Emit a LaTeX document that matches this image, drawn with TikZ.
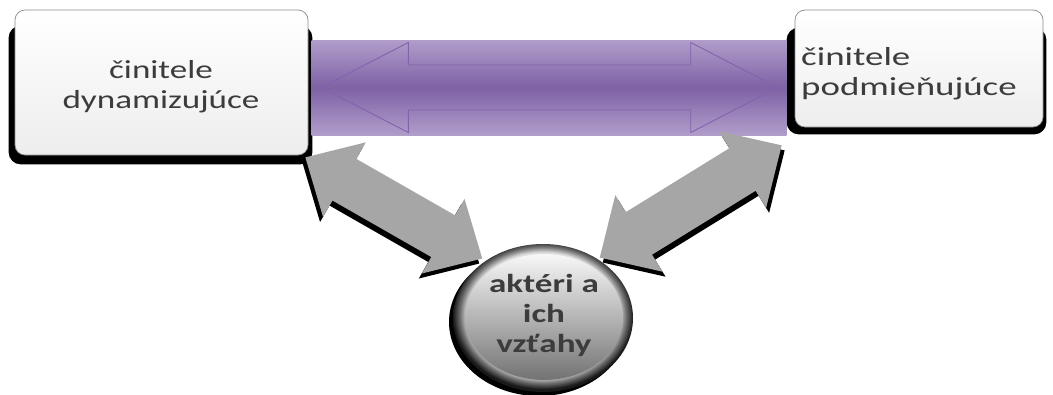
\documentclass[tikz,border=0pt]{standalone}
\usepackage{fontspec}
\setmainfont{Carlito}
\usetikzlibrary{calc,shapes.geometric,shadows}
\definecolor{bandmid}{HTML}{7E62A5}
\definecolor{bandedge}{HTML}{B09DCA}
\definecolor{bandline}{HTML}{8262AE}
\definecolor{txt}{HTML}{3C3C3C}
\definecolor{arrgray}{HTML}{A6A6A6}
\pgfdeclarelayer{bg}
\pgfdeclarelayer{fg}
\pgfsetlayers{bg,main,fg}
\pgfdeclareradialshading{knob}{\pgfpoint{0bp}{2bp}}{color(0bp)=(black!30); color(18bp)=(black!35); color(21bp)=(black!12); color(23bp)=(black!55); color(25bp)=(black!90); color(50bp)=(black!90)}
% double arrow outline between two named points:
% #2,#3 tips; #4 shaft half width; #5 head half width; #6 head length
\newcommand\dblarrow[6][]{%
  \path[#1] (#2) -- ($(#2)!#6!(#3)!#5!90:(#3)$) -- ($(#2)!#6!(#3)!#4!90:(#3)$)
    -- ($(#3)!#6!(#2)!#4!270:(#2)$) -- ($(#3)!#6!(#2)!#5!270:(#2)$) -- (#3)
    -- ($(#3)!#6!(#2)!#5!90:(#2)$) -- ($(#3)!#6!(#2)!#4!90:(#2)$)
    -- ($(#2)!#6!(#3)!#4!270:(#3)$) -- ($(#2)!#6!(#3)!#5!270:(#3)$) -- cycle;}
\newcommand\stretchtext[3][c]{\scalebox{#2}[1]{\begin{tabular}{@{}#1@{}}#3\end{tabular}}}
\tikzset{
  boxshape/.style={rectangle, rounded corners=10pt, draw=black!45, line width=0.7pt,
    top color=white, bottom color=black!7, inner sep=0pt},
  band/.style={rectangle, inner sep=0pt, top color=bandedge, bottom color=bandedge, middle color=bandmid},
  lbl/.style={inner sep=0pt, text=txt, font=\fontsize{26}{30}\selectfont},
  boldlbl/.style={lbl, font=\fontsize{26}{30}\selectfont\bfseries},
  grayarrow/.style={fill=arrgray},
  arrowshadow/.style={fill=black},
  bandarrow/.style={draw=bandline, line width=0.9pt},
  knobshape/.style={ellipse, inner sep=0pt, shading=knob,
    general shadow={fill=black, shadow xshift=-4pt, shadow yshift=-4pt}},
  knobface/.style={top color=black!3, middle color=black!28, bottom color=black!55}
}
\begin{document}
\begin{tikzpicture}[x=1pt,y=-1pt]
\useasboundingbox (0,0) rectangle (1053,394);
\begin{pgfonlayer}{bg}
  \fill[white] (0,0) rectangle (1053,394);
\end{pgfonlayer}
% purple band
\node[band, minimum width=475pt, minimum height=95pt] (band) at (549,87.5) {};
\coordinate (pl) at ([xshift=10pt]band.west);
\coordinate (pr) at ([xshift=-9pt]band.east);
\dblarrow[bandarrow]{pl}{pr}{22.5pt}{45pt}{87pt}
% boxes
\node[boxshape, minimum width=293pt, minimum height=145pt] (dyn) at (161.5,82.5) {};
\node[boxshape, minimum width=248pt, minimum height=117pt] (pod) at (919,68.5) {};
\begin{pgfonlayer}{bg}
  \fill[black, rounded corners=12pt] ([xshift=-6pt,yshift=-16pt]dyn.north west) rectangle ([xshift=4pt,yshift=-9pt]dyn.south east);
  \fill[black, rounded corners=12pt] ([xshift=-8pt,yshift=-18pt]pod.north west) rectangle ([xshift=3pt,yshift=-7pt]pod.south east);
\end{pgfonlayer}
\node[lbl] (dyntxt) at (161,87) {\stretchtext{1.35}{činitele\\dynamizujúce}};
\node[lbl, anchor=west] (podtxt) at (801,74) {\stretchtext[l]{1.42}{činitele\\podmieňujúce}};
% circle
\begin{pgfonlayer}{fg}
  \node[knobshape, minimum width=180pt, minimum height=148pt] (akt) at (543,318) {};
  \shade[knobface] ([xshift=1pt,yshift=1pt]akt.center) ellipse [x radius=79pt, y radius=63pt];
  \node[boldlbl] (akttxt) at (544,316) {\stretchtext{1.35}{aktéri a\\ich\\vzťahy}};
\end{pgfonlayer}
% gray double arrows
\coordinate (l1) at ([shift={(-3,2)}]dyn.south east);
\coordinate (l2) at ([shift={(3,-7)}]akt.north west);
\coordinate (r1) at ([shift={(-7,-8)}]akt.north east);
\coordinate (r2) at ([shift={(-13,18)}]pod.south west);
\begin{scope}[transform canvas={xshift=-3pt,yshift=-5pt}]
  \dblarrow[arrowshadow]{l1}{l2}{24pt}{43pt}{45pt}
\end{scope}
\begin{scope}[transform canvas={xshift=3pt,yshift=-5pt}]
  \dblarrow[arrowshadow]{r1}{r2}{25pt}{45pt}{46pt}
\end{scope}
\dblarrow[grayarrow]{l1}{l2}{24pt}{43pt}{45pt}
\dblarrow[grayarrow]{r1}{r2}{25pt}{45pt}{46pt}
\end{tikzpicture}
\end{document}
